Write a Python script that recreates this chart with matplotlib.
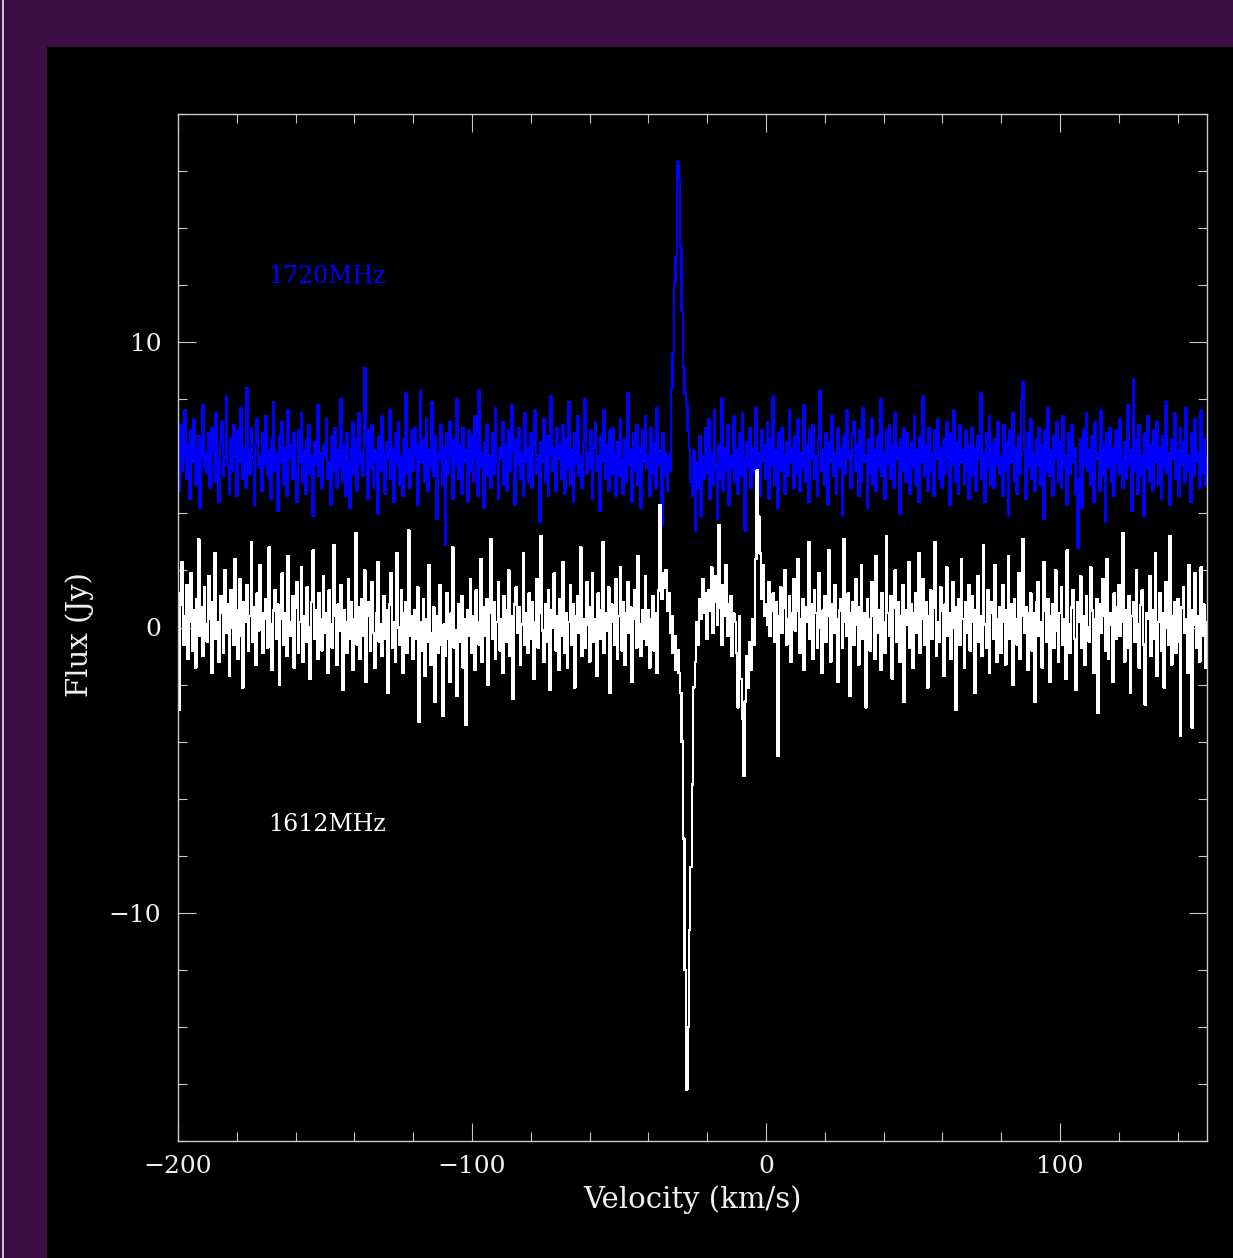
import numpy as np
import matplotlib
matplotlib.use("Agg")
import matplotlib.pyplot as plt
from matplotlib.patches import Rectangle
from matplotlib.lines import Line2D
from matplotlib.ticker import MultipleLocator

# ---------------- data ----------------
v_start, v_stop, v_step = -200.0, 150.0, 0.5
velocity = np.arange(v_start, v_stop + v_step / 2, v_step)

flux_1612 = [
    1.2, -2.9, 0.8, 2.3, -0.6, 0.4, 1.5, -1.1, 0.2, 1.9, -0.8, 0.6, -1.4, 1.0, 3.1, -0.3, 0.7, -1.0, 1.4, 0.1,
    -0.5, 1.8, 0.3, -1.6, 0.9, 2.6, -0.4, 0.2, -1.2, 1.1, 0.5, -0.9, 2.0, -0.2, 0.8, -1.7, 1.3, 0.0, -0.6, 2.4,
    0.6, -1.1, 1.7, -0.3, -2.1, 0.9, 0.2, 1.5, -0.8, 0.4, 3.0, -0.5, 0.7, -1.3, 1.2, -0.1, 2.2, 0.5, -0.9, 0.3,
    1.0, -0.7, 2.8, 0.1, -1.5, 0.6, 1.3, -0.4, 0.8, -2.0, 0.3, 1.9, -0.6, 0.5, -1.0, 2.5, 0.2, -0.3, 1.1, -1.4,
    0.7, 1.6, -0.9, 0.2, 2.1, -1.2, 0.4, -0.5, 1.4, 0.0, -1.8, 0.9, 2.7, -0.4, 0.6, -1.1, 1.2, 0.3, -0.8, 1.8,
    -0.2, 0.5, -1.6, 1.3, 0.1, -0.7, 2.9, 0.4, -1.3, 0.8, -0.1, 1.5, -2.2, 0.6, 0.2, -0.9, 1.7, -0.4, 0.9, -1.5,
    0.3, 3.3, -0.6, 0.7, -1.1, 1.0, -0.3, 2.0, -1.9, 0.4, 0.9, -0.8, 1.6, -0.2, -1.4, 0.5, 2.3, -0.5, 0.1, -1.0,
    1.1, -0.4, 0.6, -2.3, 0.8, 1.9, -0.7, 0.2, -1.2, 2.6, 0.0, -0.6, 1.3, -1.6, 0.5, 0.9, -0.9, 3.4, -0.3, 0.4,
    -1.1, 0.6, -0.4, 1.4, -3.3, 0.2, -0.8, 1.0, -1.7, 0.3, -0.5, 2.2, -1.3, -0.2, 0.7, -2.6, 0.4, -0.9, 1.5, -0.6,
    -3.1, 0.1, -1.0, 1.2, -0.4, -1.9, 0.5, 2.8, -0.7, -0.1, -2.4, 0.8, -0.5, 1.1, -1.4, 0.3, -3.4, 0.6, -0.3, 1.7,
    -0.9, 0.4, -1.5, 1.3, 0.2, -0.6, 2.4, -1.2, 0.7, -0.3, 1.0, -2.0, 0.5, 3.1, -0.4, 0.9, -1.1, 0.2, 1.6, -0.8,
    0.3, -1.6, 1.1, 0.6, -0.5, 2.0, -1.0, 0.4, -2.5, 0.8, 1.4, -0.2, 0.7, -1.3, 0.1, 2.6, -0.6, 0.5, -0.9, 1.2,
    -0.4, 0.9, -1.8, 0.2, 1.7, -0.7, 0.5, 3.2, -0.1, -1.2, 0.8, -0.5, 1.3, -2.2, 0.6, 0.0, 1.9, -0.8, 0.4, -1.5,
    1.0, -0.3, 2.3, -0.9, 0.5, -1.4, 0.2, 1.5, -0.6, 0.8, -2.1, 0.4, 1.1, -0.2, 2.8, -1.0, 0.3, -0.7, 1.6, 0.1,
    -1.2, 0.7, 1.9, -0.5, 0.3, -1.7, 1.2, 0.6, -0.4, 3.0, -0.9, 0.5, -0.1, 1.4, -2.3, 0.8, 0.2, -0.6, 1.7, -1.1,
    0.4, 2.1, -0.8, 0.9, -1.3, 0.5, 1.6, -0.2, 0.7, -1.9, 0.3, 1.3, -0.7, 2.5, 0.1, -1.0, 0.6, -0.4, 1.8, -0.6,
    0.6, -1.4, 0.3, 1.1, -0.8, 0.5, -1.6, 1.3, 4.3, 1.0, 1.9, 1.4, 2.0, 0.6, 1.2, -0.2, 0.4, -0.9, -0.3, -1.5,
    -0.8, -1.6, -2.3, -4.0, -7.4, -12.0, -16.2, -14.0, -10.6, -8.4, -5.5, -2.1, -1.2, 0.2, -0.6, 1.0, 0.3, 1.7, 0.5, 1.2,
    -0.4, 1.3, 0.6, 2.1, -0.2, 0.9, 1.8, 0.1, 3.6, 0.7, -0.6, 1.5, 0.4, 2.2, -0.3, 0.8, 1.1, -1.0, 0.5, 0.2,
    -0.9, -2.8, 0.4, -1.8, -3.2, -5.2, -2.6, -1.0, -2.1, -0.5, -1.5, 0.3, -0.6, 2.4, 5.5, 3.9, 2.6, 1.0, 2.2, 0.4,
    0.8, 0.1, 1.6, -0.3, 0.6, 1.2, -0.5, 0.9, -4.5, 0.4, 1.4, -0.2, 0.7, 2.0, -0.6, 0.3, 1.1, -1.2, 0.5, 1.7,
    -0.1, 0.6, 2.4, -0.9, 0.3, 1.0, -1.5, 0.7, 0.2, 3.0, -0.4, 0.8, -1.1, 1.3, 0.5, -0.7, 1.9, 0.0, -1.6, 0.6,
    1.1, -0.5, 0.4, 2.7, -1.2, 0.8, -0.2, 1.5, 0.3, -1.9, 0.6, 1.0, -0.7, 3.1, 0.2, -0.3, 1.2, -2.4, 0.5, 0.9,
    -0.6, 1.7, 0.1, -1.3, 0.7, 2.2, -0.4, 0.5, -2.8, 1.0, 0.3, -0.8, 1.6, 0.4, -1.1, 2.5, -0.2, 0.6, -1.5, 1.2,
    0.2, -0.9, 3.2, 0.5, -0.3, 1.1, -1.8, 0.7, 2.0, -0.5, 0.9, -1.2, 0.4, 1.5, -2.6, 0.6, 0.1, 2.3, -0.7, 0.8,
    -1.4, 0.5, 1.2, -0.2, 2.6, -0.9, 0.3, 1.7, -0.6, 0.9, -2.1, 0.4, 1.3, -0.4, 0.7, 3.0, -1.0, 0.2, -0.5, 1.4,
    0.6, -1.7, 0.8, 2.1, -0.3, 0.5, -1.1, 1.6, 0.0, -2.9, 0.7, 1.0, -0.6, 2.4, 0.3, -1.4, 0.9, -0.2, 1.5, -0.8,
    1.1, 0.2, -2.3, 0.6, 1.8, -0.5, 0.4, -1.0, 2.9, 0.1, -0.7, 1.3, -1.6, 0.5, 0.9, -0.4, 2.2, -1.2, 0.3, 0.7,
    -0.9, 1.5, 0.2, -1.3, 0.6, 2.5, -0.4, 0.8, -2.0, 1.0, 0.3, -0.6, 1.9, -1.1, 0.4, 3.1, -0.2, 0.7, -1.5, 0.5,
    1.2, -0.8, 0.5, -2.6, 0.9, 1.6, -0.3, 0.2, -1.4, 2.3, 0.6, -0.5, 1.0, -1.9, 0.4, 0.8, -0.7, 2.0, -0.1, -1.2,
    0.5, 1.4, -0.6, 0.3, -1.8, 2.7, 0.1, -0.9, 0.7, 1.3, -0.4, -2.2, 0.9, 0.2, 1.8, -0.7, 0.4, -1.3, 1.1, 0.0,
    -0.5, 2.1, 0.6, -1.6, 0.3, 1.0, -3.0, 0.8, -0.2, 1.7, 0.4, -0.8, 2.4, -1.1, 0.5, 0.1, -1.9, 1.2, -0.4, 0.7,
    1.5, -0.3, 0.2, 3.3, -1.2, 0.6, -0.7, 1.1, -2.3, 0.4, 0.9, -0.5, 2.0, 0.1, -1.4, 0.8, 1.3, -0.6, -2.7, 0.5,
    0.3, 1.8, -1.0, 0.6, -0.4, 2.6, -1.7, 0.2, 1.2, -0.8, 0.5, -2.1, 1.6, 0.0, -0.6, 3.2, -1.3, 0.4, 0.9, -0.9,
    1.0, -0.5, -3.8, 0.7, 1.4, -0.2, 0.3, -1.6, 2.2, 0.6, -3.5, 0.1, 1.9, -0.7, 0.4, -1.2, 2.1, -0.3, 0.8, -1.4,
    0.2,
]

flux_1720 = [
    6.3, 4.8, 7.1, 5.5, 6.0, 7.6, 5.2, 6.4, 4.5, 6.9, 5.8, 7.3, 5.0, 6.2, 6.7, 4.2, 6.0, 7.8, 5.6, 6.1,
    5.4, 6.8, 4.9, 7.0, 6.2, 5.1, 7.5, 5.9, 4.4, 6.5, 7.2, 5.3, 6.0, 8.1, 5.7, 4.7, 6.6, 5.5, 7.1, 6.0,
    4.6, 6.9, 5.8, 7.7, 5.2, 6.3, 4.9, 8.4, 6.1, 5.4, 7.0, 5.9, 4.3, 6.4, 7.3, 5.6, 6.0, 4.8, 6.8, 5.7,
    7.4, 5.3, 6.2, 4.5, 6.6, 7.9, 5.5, 6.1, 4.1, 6.7, 5.8, 7.2, 5.0, 6.3, 4.6, 7.6, 5.9, 6.4, 5.2, 6.8,
    5.6, 4.4, 6.9, 5.8, 7.5, 5.1, 6.2, 4.7, 6.6, 7.1, 5.4, 6.0, 3.9, 6.5, 5.7, 7.8, 5.3, 6.1, 4.9, 6.4,
    6.0, 7.3, 5.2, 5.8, 4.3, 6.7, 5.5, 7.0, 4.9, 6.2, 5.6, 8.0, 5.1, 6.4, 4.6, 6.8, 5.9, 4.2, 6.3, 7.2,
    5.4, 6.6, 4.8, 7.5, 5.7, 6.1, 5.3, 9.1, 6.4, 4.5, 6.9, 5.6, 7.1, 4.9, 6.2, 5.8, 4.0, 6.7, 5.5, 7.4,
    6.1, 4.7, 6.5, 5.9, 7.6, 5.2, 6.3, 4.4, 6.8, 5.7, 7.2, 5.0, 6.0, 4.6, 6.6, 8.2, 5.4, 6.2, 4.9, 6.9,
    5.5, 7.0, 6.0, 4.3, 6.4, 8.3, 5.8, 6.6, 5.1, 7.3, 4.8, 6.2, 5.6, 7.9, 5.3, 6.7, 3.8, 6.1, 5.9, 7.1,
    5.0, 6.3, 2.9, 6.8, 5.4, 7.2, 6.0, 4.5, 6.6, 5.7, 8.0, 5.2, 6.4, 4.7, 7.0, 5.8, 6.2, 4.4, 6.9, 5.5,
    6.7, 5.1, 7.4, 5.9, 4.6, 8.3, 5.6, 6.1, 4.2, 6.5, 7.1, 5.3, 6.0, 4.9, 6.8, 5.4, 7.7, 5.8, 4.5, 6.3,
    5.9, 7.2, 5.0, 6.4, 4.8, 6.9, 5.5, 7.8, 6.2, 4.3, 6.6, 5.7, 7.0, 5.2, 6.1, 4.6, 7.5, 5.8, 6.3, 5.1,
    6.8, 4.9, 6.2, 7.6, 5.4, 6.0, 3.7, 6.5, 5.8, 7.3, 5.1, 6.7, 4.6, 6.1, 8.1, 5.5, 6.3, 4.8, 7.0, 5.9,
    6.4, 5.2, 7.1, 4.7, 6.6, 5.6, 7.9, 5.0, 6.2, 4.4, 6.8, 5.7, 7.4, 5.3, 6.0, 4.9, 6.5, 8.0, 5.4, 6.1,
    5.6, 6.9, 4.5, 6.3, 7.2, 5.5, 6.0, 4.1, 6.7, 5.8, 7.6, 5.2, 6.4, 4.8, 6.9, 5.4, 7.0, 6.1, 4.6, 6.5,
    5.3, 7.3, 5.9, 4.7, 6.6, 5.1, 8.2, 5.7, 6.2, 4.4, 6.8, 5.5, 7.1, 5.0, 6.3, 4.2, 6.9, 5.8, 7.4, 5.6,
    6.0, 4.6, 7.0, 5.4, 6.5, 4.9, 7.7, 5.7, 6.2, 3.6, 6.8, 5.3, 6.1, 4.8, 6.0, 5.5, 8.4, 9.6, 12.1, 13.0,
    16.3, 15.7, 13.3, 11.1, 9.1, 8.2, 7.8, 6.9, 6.3, 5.1, 4.6, 6.2, 3.4, 5.8, 4.9, 6.7, 3.9, 6.0, 5.2, 7.0,
    5.4, 7.3, 4.5, 6.1, 5.0, 7.6, 5.7, 3.8, 6.4, 5.2, 8.0, 4.8, 6.3, 5.5, 7.1, 4.3, 6.0, 5.6, 7.4, 5.1,
    6.2, 4.7, 6.8, 5.3, 7.5, 5.9, 3.4, 6.5, 5.6, 7.0, 4.9, 6.3, 5.4, 7.7, 5.0, 6.1, 4.6, 6.9, 5.8, 6.4,
    5.2, 7.2, 4.5, 6.6, 5.7, 8.1, 5.0, 6.2, 4.2, 6.8, 5.5, 7.0, 6.0, 4.7, 6.5, 5.3, 7.6, 5.8, 6.3, 4.9,
    6.7, 5.4, 7.3, 4.8, 6.1, 5.6, 7.8, 5.1, 6.4, 4.4, 6.9, 5.9, 7.1, 5.2, 6.0, 4.6, 6.6, 8.3, 5.5, 6.2,
    5.0, 6.8, 4.3, 6.5, 5.8, 7.4, 5.3, 6.1, 4.7, 7.0, 5.6, 6.3, 3.9, 6.7, 5.4, 7.6, 5.9, 6.2, 4.9, 6.8,
    7.2, 5.5, 6.4, 4.6, 6.9, 5.1, 7.7, 5.8, 6.0, 4.2, 6.6, 5.4, 7.3, 5.0, 6.2, 4.8, 6.7, 5.6, 8.0, 5.3,
    6.1, 4.5, 6.9, 5.7, 7.1, 5.2, 6.4, 4.9, 7.5, 5.9, 6.3, 4.0, 6.6, 5.5, 7.0, 5.1, 6.8, 6.2, 4.7, 6.5,
    5.6, 7.4, 5.0, 6.2, 4.4, 6.7, 5.8, 8.1, 5.3, 6.4, 4.8, 7.0, 5.5, 6.1, 4.6, 6.9, 5.9, 7.3, 5.2, 6.3,
    4.9, 6.6, 5.4, 7.2, 6.0, 4.3, 6.8, 5.7, 7.6, 5.1, 6.5, 4.7, 7.1, 5.8, 6.2, 5.0, 6.9, 5.5, 4.5, 6.4,
    7.0, 5.3, 6.3, 4.8, 6.7, 5.9, 8.2, 5.2, 6.1, 4.4, 6.8, 5.6, 7.4, 5.0, 6.4, 4.9, 6.6, 5.7, 7.2, 5.4,
    6.0, 4.6, 7.1, 5.5, 6.5, 3.9, 6.9, 5.8, 7.5, 5.1, 6.3, 4.7, 6.7, 5.4, 8.0, 8.6, 6.2, 4.5, 6.8, 5.6,
    7.3, 5.2, 6.1, 4.8, 6.6, 5.7, 7.0, 5.0, 6.4, 3.8, 6.9, 5.5, 7.7, 5.3, 6.2, 4.6, 6.7, 5.9, 7.2, 5.1,
    6.5, 4.9, 7.4, 5.6, 6.0, 4.3, 6.8, 5.4, 7.1, 5.8, 6.3, 4.7, 2.8, 5.2, 6.6, 4.2, 6.9, 5.7, 7.5, 5.5,
    6.2, 5.0, 6.7, 4.4, 7.2, 5.9, 6.1, 4.8, 7.6, 5.3, 6.4, 3.7, 6.8, 5.6, 7.0, 5.1, 6.3, 4.6, 6.9, 5.8,
    5.4, 7.3, 5.9, 4.9, 6.5, 5.2, 7.8, 5.7, 6.2, 4.1, 8.7, 5.5, 6.6, 4.7, 7.1, 5.3, 6.0, 3.9, 6.8, 5.6,
    7.4, 5.1, 6.4, 4.8, 6.9, 5.8, 7.2, 5.0, 6.3, 4.5, 6.7, 5.6, 7.9, 5.4, 6.1, 4.3, 6.6, 5.9, 7.5, 5.2,
    6.2, 4.6, 7.0, 5.7, 6.5, 5.1, 7.7, 5.5, 6.0, 4.4, 6.8, 5.3, 7.3, 5.8, 6.1, 4.9, 7.6, 5.4, 6.6, 5.0,
    6.0,
]

series_labels = ["1720MHz", "1612MHz"]
x_ticks = [-200, -100, 0, 100]
y_ticks = [-10, 0, 10]

# ---------------- styling ----------------
W, H, DPI = 1233, 1258, 100
purple = "#3d0e45"
frame_col = "#c8c8c8"
text_col = "#f0f0f0"
font = ["DejaVu Serif"]
fs_tick = 18
fs_axis = 21
fs_series = 17

fig = plt.figure(figsize=(W / DPI, H / DPI), dpi=DPI, facecolor=purple)

# inner black panel and thin left white line (behind everything)
fig.patches.append(Rectangle((47 / W, 0), 1 - 47 / W, 1 - 47 / H,
                             transform=fig.transFigure, facecolor="black",
                             edgecolor="none", zorder=-10))
fig.lines.append(Line2D([2.5 / W, 2.5 / W], [0, 1], transform=fig.transFigure,
                        color="#e8e0ea", lw=1.2, zorder=-9))

ax = fig.add_axes([178 / W, (H - 1141) / H, (1207 - 178) / W, (1141 - 114) / H])
ax.set_facecolor("black")
ax.set_zorder(1)

ax.plot(velocity, flux_1720, drawstyle="steps-mid", color="#0000ff", lw=1.0,
        antialiased=False)
ax.plot(velocity, flux_1612, drawstyle="steps-mid", color="white", lw=1.0,
        antialiased=False)

ax.set_xlim(-200, 150)
ax.set_ylim(-18, 18)

ax.xaxis.set_major_locator(MultipleLocator(100))
ax.xaxis.set_minor_locator(MultipleLocator(20))
ax.yaxis.set_major_locator(MultipleLocator(10))
ax.yaxis.set_minor_locator(MultipleLocator(2))
ax.set_xticks(x_ticks)
ax.set_yticks(y_ticks)
ax.set_xticklabels([f"{t:d}".replace("-", "\u2212") for t in x_ticks])
ax.set_yticklabels([f"{t:d}".replace("-", "\u2212") for t in y_ticks])

for s in ax.spines.values():
    s.set_color(frame_col)
    s.set_linewidth(1.0)

ax.tick_params(which="both", direction="in", top=True, right=True,
               color=frame_col, width=0.8, labelcolor=text_col)
ax.tick_params(which="major", length=13)
ax.tick_params(which="minor", length=6.5)
ax.tick_params(axis="x", which="major", pad=10)
ax.tick_params(axis="y", which="major", pad=12)
for lab in ax.get_xticklabels() + ax.get_yticklabels():
    lab.set_family(font)
    lab.set_fontsize(fs_tick)

ax.text(-169.4, 12.3, series_labels[0], color="#0000ff", fontsize=fs_series,
        family=font, ha="left", va="center")
ax.text(-169.4, -6.9, series_labels[1], color="white", fontsize=fs_series,
        family=font, ha="left", va="center")

fig.text(692 / W, 1 - 1200 / H, "Velocity (km/s)", color=text_col, fontsize=fs_axis,
         family=font, ha="center", va="center")
fig.text(80 / W, 1 - 635 / H, "Flux (Jy)", color=text_col, fontsize=fs_axis,
         family=font, ha="center", va="center", rotation=90)

fig.savefig("out.png", dpi=DPI, facecolor=purple)
